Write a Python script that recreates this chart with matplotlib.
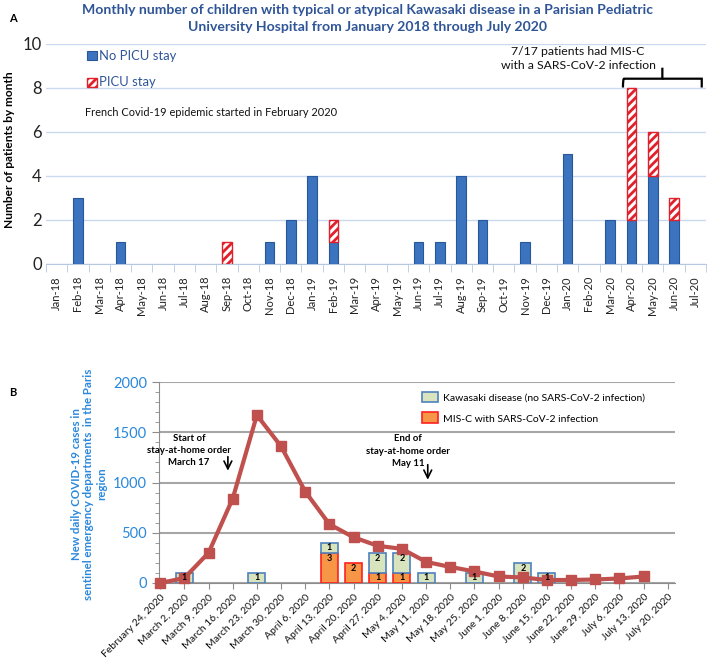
import matplotlib
matplotlib.use("Agg")
import matplotlib.pyplot as plt
from matplotlib.patches import Rectangle
from matplotlib.path import Path
from matplotlib.patches import PathPatch
import numpy as np

plt.rcParams['font.family'] = ['Lato', 'DejaVu Sans']
plt.rcParams['hatch.linewidth'] = 2.0

# ---------------- Panel A data ----------------
months = ["Jan-18", "Feb-18", "Mar-18", "Apr-18", "May-18", "Jun-18", "Jul-18", "Aug-18",
          "Sep-18", "Oct-18", "Nov-18", "Dec-18", "Jan-19", "Feb-19", "Mar-19", "Apr-19",
          "May-19", "Jun-19", "Jul-19", "Aug-19", "Sep-19", "Oct-19", "Nov-19", "Dec-19",
          "Jan-20", "Feb-20", "Mar-20", "Apr-20", "May-20", "Jun-20", "Jul-20"]
no_picu = [0, 3, 0, 1, 0, 0, 0, 0, 0, 0, 1, 2, 4, 1, 0, 0, 0, 1, 1, 4, 2, 0, 1, 0, 5, 0, 2, 2, 4, 2, 0]
picu    = [0, 0, 0, 0, 0, 0, 0, 0, 1, 0, 0, 0, 0, 1, 0, 0, 0, 0, 0, 0, 0, 0, 0, 0, 0, 0, 0, 6, 2, 1, 0]

# ---------------- Panel B data ----------------
weeks = ["February 24, 2020", "March 2, 2020", "March 9, 2020", "March 16, 2020", "March 23, 2020",
         "March 30, 2020", "April 6, 2020", "April 13, 2020", "April 20, 2020", "April 27, 2020",
         "May 4, 2020", "May 11, 2020", "May 18, 2020", "May 25, 2020", "June 1, 2020",
         "June 8, 2020", "June 15, 2020", "June 22, 2020", "June 29, 2020", "July 6, 2020",
         "July 13, 2020", "July 20, 2020"]
covid_cases = [0, 50, 300, 840, 1670, 1360, 910, 585, 455, 370, 340, 210, 160, 115, 65, 55,
               30, 30, 35, 45, 65]
misc_counts = [0, 0, 0, 0, 0, 0, 0, 3, 2, 1, 1, 0, 0, 0, 0, 0, 0, 0, 0, 0, 0, 0]
kd_counts   = [0, 1, 0, 0, 1, 0, 0, 1, 0, 2, 2, 1, 0, 1, 0, 2, 1, 0, 0, 0, 0, 0]
units_per_patient = 100

W, H = 709, 661
fig = plt.figure(figsize=(W / 100, H / 100), dpi=100)

def fx(px):
    return px / W

def fy(py):
    return 1 - py / H

title_col = '#2f5597'
blue_bar = '#3b73bf'
blue_edge = '#28569a'
tick_blue = '#2a88dc'

# ---------------- Panel A ----------------
axA = fig.add_axes([fx(46), fy(263.5), fx(706) - fx(46), fy(43.5) - fy(263.5)])
x = np.arange(len(months))
npa = np.array(no_picu)
pa = np.array(picu)
m1 = npa > 0
axA.bar(x[m1], npa[m1], width=0.45, color=blue_bar, edgecolor=blue_edge, linewidth=0.8, zorder=3)
m2 = pa > 0
axA.bar(x[m2], pa[m2], width=0.45, bottom=npa[m2], color='white', edgecolor='#e0202a',
        hatch='////', linewidth=1.0, zorder=3)
axA.set_xlim(-0.5, len(months) - 0.5)
axA.set_ylim(0, 10)
axA.set_yticks(range(0, 11, 2))
axA.yaxis.grid(True, color='#c9daf0', linewidth=1.0, zorder=0)
axA.set_axisbelow(True)
for s in ['top', 'right', 'left']:
    axA.spines[s].set_visible(False)
axA.spines['bottom'].set_color('#b7c9e2')
axA.tick_params(axis='y', length=0, labelsize=12, colors='#222222', pad=3)
axA.set_xticks(x)
axA.set_xticklabels(months, rotation=90, fontsize=8, color='#222222')
axA.set_xticks(np.arange(-0.5, len(months), 1), minor=True)
axA.tick_params(axis='x', which='major', length=0, pad=9)
axA.tick_params(axis='x', which='minor', length=6, color='#b7c9e2')
fig.text(fx(10), fy(150), "Number of patients by month", rotation=90, fontsize=8.6,
         fontweight='bold', ha='center', va='center')

# legend A
fig.patches.append(Rectangle((fx(87), fy(60)), fx(10), fy(51) - fy(60), transform=fig.transFigure,
                             facecolor=blue_bar, edgecolor=blue_edge, lw=0.8))
fig.text(fx(99), fy(55.5), "No PICU stay", fontsize=9.4, color=title_col, va='center')
fig.patches.append(Rectangle((fx(87), fy(87)), fx(10), fy(78) - fy(87), transform=fig.transFigure,
                             facecolor='white', edgecolor='#e0202a', hatch='////', lw=1.0))
fig.text(fx(99), fy(82.5), "PICU stay", fontsize=9.4, color=title_col, va='center')
fig.text(fx(85), fy(112), "French Covid-19 epidemic started in February 2020", fontsize=7.9,
         color='#111111', va='center')
fig.text(fx(578), fy(58.5), "7/17 patients had MIS-C\nwith a SARS-CoV-2 infection", fontsize=8.8,
         color='#111111', ha='center', va='center', linespacing=1.25)

# curly brace
x0, x1, xm = 26.6, 30.3, 28.45
yb, yh, yt = 8.0, 8.4, 8.9
verts = [(x0, yb), (x0, yh), (x0 + 0.05, yh), (x0 + 0.2, yh),
         (xm - 0.1, yh), (xm - 0.05, yh), (xm, yh), (xm, yt)]
codes = [Path.MOVETO, Path.CURVE3, Path.CURVE3, Path.LINETO,
         Path.LINETO, Path.CURVE3, Path.CURVE3, Path.LINETO]
verts2 = [(xm, yh), (xm + 0.05, yh), (xm + 0.1, yh), (x1 - 0.2, yh),
          (x1 - 0.05, yh), (x1, yh), (x1, yb)]
codes2 = [Path.MOVETO, Path.CURVE3, Path.CURVE3, Path.LINETO,
          Path.CURVE3, Path.CURVE3, Path.LINETO]
for v, c in [(verts, codes), (verts2, codes2)]:
    axA.add_patch(PathPatch(Path(v, c), facecolor='none', edgecolor='black', lw=1.6, clip_on=False))

fig.text(fx(367), fy(10), "Monthly number of children with typical or atypical Kawasaki disease in a Parisian Pediatric",
         fontsize=10.1, fontweight='bold', color=title_col, ha='center', va='center')
fig.text(fx(367), fy(27), "University Hospital from January 2018 through July 2020",
         fontsize=10.1, fontweight='bold', color=title_col, ha='center', va='center')
fig.text(fx(13), fy(18), "A", fontsize=8, fontweight='bold', ha='center', va='center')
fig.text(fx(13), fy(393), "B", fontsize=8, fontweight='bold', ha='center', va='center')

# ---------------- Panel B ----------------
axB = fig.add_axes([fx(159), fy(583), fx(675) - fx(159), fy(382) - fy(583)])
xb = np.arange(len(weeks))
misc_h = np.array(misc_counts) * units_per_patient
kd_h = np.array(kd_counts) * units_per_patient
mm = misc_h > 0
mk = kd_h > 0
axB.bar(xb[mm], misc_h[mm], width=0.7, color='#f79646', edgecolor='#ff2020', linewidth=1.2, zorder=3)
axB.bar(xb[mk], kd_h[mk], width=0.7, bottom=misc_h[mk], color='#d7e4bd', edgecolor='#4f81bd',
        linewidth=1.2, zorder=3)
for i in range(len(weeks)):
    if misc_counts[i]:
        axB.text(xb[i], misc_h[i] - 50 if misc_counts[i] == 1 else misc_h[i] - 60, str(misc_counts[i]),
                 ha='center', va='center', fontsize=6.5, fontweight='bold', zorder=5)
    if kd_counts[i]:
        axB.text(xb[i], misc_h[i] + kd_h[i] - 50 if kd_counts[i] == 1 else misc_h[i] + kd_h[i] - 60,
                 str(kd_counts[i]), ha='center', va='center', fontsize=6.5, fontweight='bold', zorder=5)

axB.plot(np.arange(len(covid_cases)), covid_cases, color='#c0504d', lw=3, marker='s', markersize=7,
         zorder=4, clip_on=False)
axB.set_xlim(-0.05, 21.3)
axB.set_ylim(0, 2000)
axB.set_yticks(range(0, 2001, 500))
axB.set_yticks(range(0, 2001, 100), minor=True)
axB.yaxis.grid(True, color='#a6a6a6', linewidth=1.5, zorder=0)
axB.set_axisbelow(True)
for s in ['top', 'right']:
    axB.spines[s].set_visible(False)
axB.spines['left'].set_color('#8c8c8c')
axB.spines['bottom'].set_color('#8c8c8c')
axB.tick_params(axis='y', which='major', length=5, color='#8c8c8c', labelsize=10.5, labelcolor=tick_blue)
axB.tick_params(axis='y', which='minor', length=3, color='#8c8c8c')
axB.set_xticks(xb)
axB.set_xticklabels(weeks, rotation=45, ha='right', rotation_mode='anchor', fontsize=7.5, color='#111111')
axB.tick_params(axis='x', length=4, color='#8c8c8c', pad=3)

fig.text(fx(89), fy(484), "New daily COVID-19 cases in\nsentinel emergency departments  in the Paris\nregion",
         rotation=90, fontsize=8.3, fontweight='bold', color=tick_blue, ha='center', va='center',
         linespacing=1.2, multialignment='center')

# legend B
fig.patches.append(Rectangle((fx(422), fy(402)), fx(16), fy(392) - fy(402), transform=fig.transFigure,
                             facecolor='#d7e4bd', edgecolor='#4f81bd', lw=1.2))
fig.text(fx(443), fy(398.5), "Kawasaki disease (no SARS-CoV-2 infection)", fontsize=7.5, va='center')
fig.patches.append(Rectangle((fx(422), fy(423)), fx(16), fy(412) - fy(423), transform=fig.transFigure,
                             facecolor='#f79646', edgecolor='#ff2020', lw=1.2))
fig.text(fx(443), fy(419), "MIS-C with SARS-CoV-2 infection", fontsize=7.5, va='center')

# annotations B
axB.annotate("", xy=(2.8, 1090), xytext=(2.8, 1285),
             arrowprops=dict(arrowstyle='->', color='black', lw=1.2, mutation_scale=14))
fig.text(fx(189), fy(450.5), "Start of\nstay-at-home order\nMarch 17", fontsize=6.9, fontweight='bold',
         ha='center', va='center', linespacing=1.45)
axB.annotate("", xy=(11.07, 1000), xytext=(11.07, 1205),
             arrowprops=dict(arrowstyle='->', color='black', lw=1.2, mutation_scale=14))
fig.text(fx(408), fy(451), "End of\nstay-at-home order\nMay 11", fontsize=6.9, fontweight='bold',
         ha='center', va='center', linespacing=1.45)

fig.savefig("out.png", dpi=100)
